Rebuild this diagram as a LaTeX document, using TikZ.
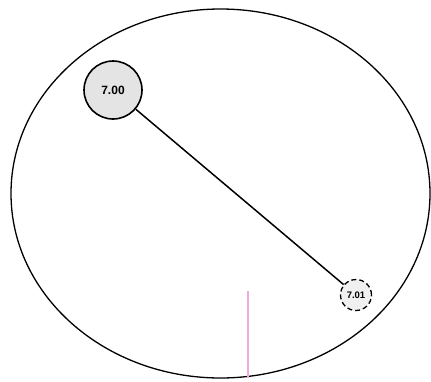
\documentclass[tikz,border=0pt]{standalone}
\usepackage{fontspec}
\setmainfont{Liberation Sans}
\usetikzlibrary{positioning}
\definecolor{nodefill}{RGB}{228,228,228}
\definecolor{ghostfill}{RGB}{240,240,240}
\definecolor{markpink}{RGB}{240,170,225}
\tikzset{
  valnode/.style={circle, draw, line width=1.6pt, fill=nodefill, minimum size=58pt, inner sep=0pt, font=\fontsize{12}{13}\selectfont\bfseries},
  ghostnode/.style={circle, draw, dash pattern=on 5pt off 3pt, line width=1.3pt, fill=ghostfill, minimum size=31pt, inner sep=0pt, font=\fontsize{9.5}{10}\selectfont\bfseries}
}

\begin{document}
\begin{tikzpicture}[x=1pt, y=-1pt]
    \useasboundingbox (0,0) rectangle (431,381);
    % outer boundary
    \draw[line width=1.3pt] (220.5,193.5) ellipse (209.5 and 184.5);
    % pink marker up from the bottom of the boundary
    \coordinate (mtop) at (248,291);
    \coordinate (mbot) at (248,377.5);
    \draw[markpink, line width=1.2pt] (mtop) -- (mbot);
    % the two values
    \node[valnode] (v700) at (113,90) {7.00};
    \node[ghostnode] (v701) at (356,295) {7.01};
    \draw[line width=1.5pt] (v700) -- (v701);
\end{tikzpicture}
\end{document}
